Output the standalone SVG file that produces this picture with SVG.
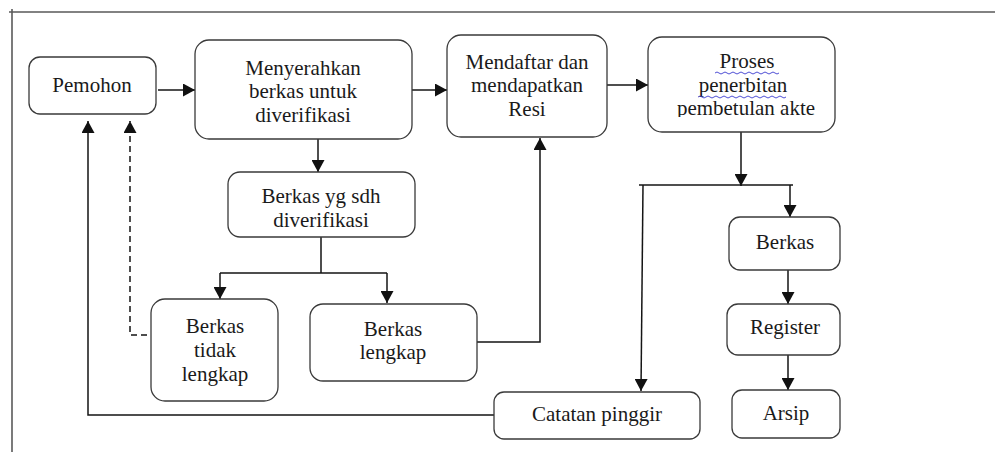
<svg xmlns="http://www.w3.org/2000/svg" width="995" height="452" viewBox="0 0 995 452">
<style>
.box{fill:#fff;stroke:#3a3a3a;stroke-width:1.3}
.t{font-size:21px;fill:#1a1a1a;text-anchor:middle}
.c{fill:none;stroke:#151515;stroke-width:1.5}
.frame{fill:none;stroke:#5a5a5a;stroke-width:1.6}
.sq{fill:none;stroke:#3b3bd0;stroke-width:0.9}
</style>
<defs>
<marker id="ah" markerUnits="userSpaceOnUse" markerWidth="13" markerHeight="13" viewBox="0 0 12 13" refX="12" refY="6.5" orient="auto">
<path d="M0,0 L12,6.5 L0,13 z" fill="#111"/>
</marker>
<clipPath id="clipP"><rect x="640" y="30" width="200" height="87"/></clipPath>
</defs>
<path class="frame" d="M9,12 H995 M12,9 V452"/>
<g id="connectors">
<path class="c" d="M158,90 H195" marker-end="url(#ah)"/>
<path class="c" d="M412,90 H447" marker-end="url(#ah)"/>
<path class="c" d="M607,85 H648" marker-end="url(#ah)"/>
<path class="c" d="M318,139 V172" marker-end="url(#ah)"/>
<path class="c" d="M321,237 V273 M220,273 H387"/>
<path class="c" d="M220,273 V299" marker-end="url(#ah)"/>
<path class="c" d="M387,273 V303" marker-end="url(#ah)"/>
<path class="c" d="M147,335 H130 V121" stroke-dasharray="6,4" marker-end="url(#ah)"/>
<path class="c" d="M494,415 H88 V121" marker-end="url(#ah)"/>
<path class="c" d="M477,342 H540 V138" marker-end="url(#ah)"/>
<path class="c" d="M741,132 V186" marker-end="url(#ah)"/>
<path class="c" d="M639,185 H793"/>
<path class="c" d="M643,185 L641,391" marker-end="url(#ah)"/>
<path class="c" d="M790,185 V217" marker-end="url(#ah)"/>
<path class="c" d="M788,270 V304" marker-end="url(#ah)"/>
<path class="c" d="M788,355 V390" marker-end="url(#ah)"/>
</g>
<g font-family="Liberation Serif, Times New Roman, DejaVu Serif, serif">
<g id="pemohon">
<rect class="box" x="29" y="57" width="127" height="57" rx="11"/>
<text class="t" x="92" y="92">Pemohon</text>
</g>
<g id="menyerahkan">
<rect class="box" x="195" y="40" width="217" height="99" rx="14"/>
<text class="t" x="303" y="75">Menyerahkan</text>
<text class="t" x="303" y="98">berkas untuk</text>
<text class="t" x="303" y="122">diverifikasi</text>
</g>
<g id="mendaftar">
<rect class="box" x="447" y="35" width="160" height="102" rx="14"/>
<text class="t" x="527" y="69">Mendaftar dan</text>
<text class="t" x="527" y="92">mendapatkan</text>
<text class="t" x="527" y="116">Resi</text>
</g>
<g id="proses">
<rect class="box" x="648" y="37" width="187" height="95" rx="14"/>
<text class="t" x="747" y="68">Proses</text>
<text class="t" x="743" y="92">penerbitan</text>
<text class="t" x="746" y="115" clip-path="url(#clipP)">pembetulan akte</text>
<path class="sq" d="M715,73 q2,-2 4,0 t4,0 t4,0 t4,0 t4,0 t4,0 t4,0 t4,0 t4,0 t4,0 t4,0 t4,0 t4,0 t4,0 t4,0 t4,0"/>
<path class="sq" d="M698,97 q2,-2 4,0 t4,0 t4,0 t4,0 t4,0 t4,0 t4,0 t4,0 t4,0 t4,0 t4,0 t4,0 t4,0 t4,0 t4,0 t4,0 t4,0 t4,0 t4,0 t4,0 t4,0 t4,0"/>
</g>
<g id="berkas-verifikasi">
<rect class="box" x="228" y="172" width="187" height="65" rx="12"/>
<text class="t" x="321" y="203">Berkas yg sdh</text>
<text class="t" x="321" y="227">diverifikasi</text>
</g>
<g id="berkas-tidak-lengkap">
<rect class="box" x="151" y="299" width="127" height="102" rx="14"/>
<text class="t" x="215" y="333">Berkas</text>
<text class="t" x="215" y="357">tidak</text>
<text class="t" x="215" y="381">lengkap</text>
</g>
<g id="berkas-lengkap">
<rect class="box" x="310" y="304" width="167" height="77" rx="13"/>
<text class="t" x="393" y="336">Berkas</text>
<text class="t" x="393" y="359">lengkap</text>
</g>
<g id="catatan-pinggir">
<rect class="box" x="494" y="392" width="206" height="47" rx="10"/>
<text class="t" x="597" y="421">Catatan pinggir</text>
</g>
<g id="berkas">
<rect class="box" x="729" y="217" width="111" height="53" rx="11"/>
<text class="t" x="785" y="249">Berkas</text>
</g>
<g id="register">
<rect class="box" x="727" y="304" width="113" height="51" rx="11"/>
<text class="t" x="785" y="334">Register</text>
</g>
<g id="arsip">
<rect class="box" x="732" y="390" width="108" height="48" rx="10"/>
<text class="t" x="786" y="420">Arsip</text>
</g>
</g>
</svg>
